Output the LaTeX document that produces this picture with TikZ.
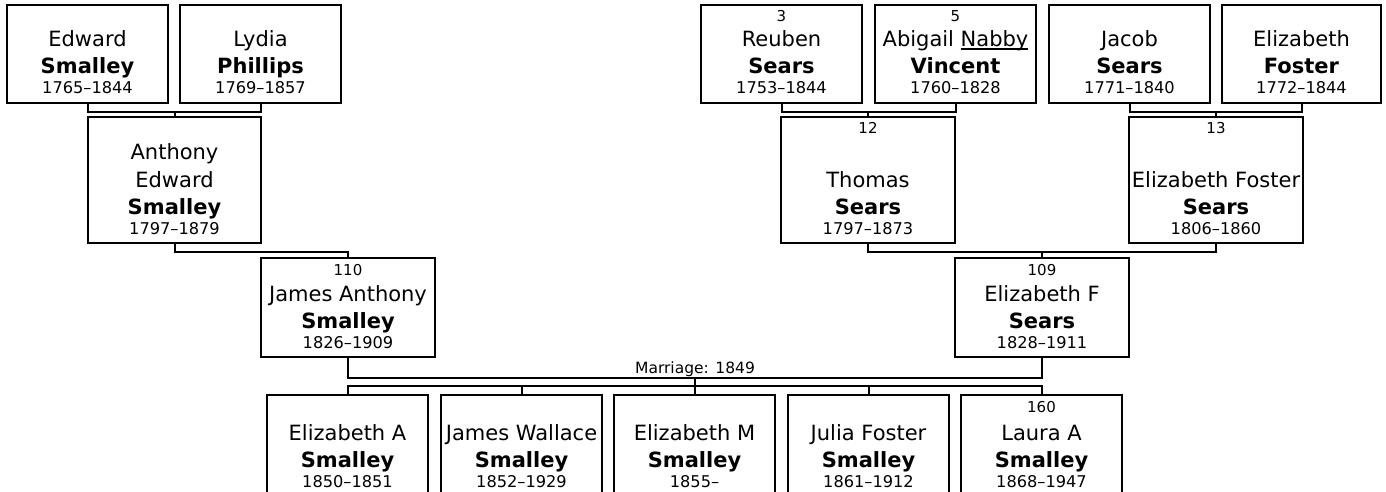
\documentclass[tikz,border=0pt]{standalone}
\usepackage{fontspec}
\setmainfont{DejaVu Sans}
\newcommand\myul[1]{\setbox0\hbox{#1}\rlap{\rule[-2.6pt]{\wd0}{1.1pt}}\box0}
\begin{document}
\begin{tikzpicture}[x=1pt,y=-1pt,
  pbox/.style={draw, line width=2pt, inner sep=0pt, fill=white},
  conn/.style={draw, line width=2pt, line cap=rect},
  nametxt/.style={anchor=base, inner sep=0pt, font=\fontsize{21}{25}\selectfont},
  surtxt/.style={anchor=base, inner sep=0pt, font=\fontsize{21}{25}\selectfont\bfseries},
  datetxt/.style={anchor=base, inner sep=0pt, font=\fontsize{16.2}{19}\selectfont},
  numtxt/.style={anchor=base, inner sep=0pt, font=\fontsize{15}{18}\selectfont},
  mtxt/.style={anchor=base, inner sep=0pt, font=\fontsize{15.5}{18}\selectfont}]
\newcommand\person[9]{%
  \node[pbox, minimum width={(#4-#2)*1pt}, minimum height={(#5-#3)*1pt}] (#1) at ({(#2+#4)/2},{(#3+#5)/2}) {};
  \node[numtxt] (#1-num) at ([yshift=-18pt]#1.north) {#6};
  \node[nametxt] (#1-name) at ([yshift=57pt]#1.south) {#7};
  \node[surtxt] (#1-sur) at ([yshift=30pt]#1.south) {#8};
  \node[datetxt] (#1-date) at ([yshift=10pt]#1.south) {#9};
}
\useasboundingbox (0,0) rectangle (1386,492);
\clip (0,0) rectangle (1386,492);
% generation 1
\person{edward}{7}{5}{168}{103}{}{Edward}{Smalley}{1765–1844}
\person{lydia}{180}{5}{341}{103}{}{Lydia}{Phillips}{1769–1857}
\person{reuben}{701}{5}{862}{103}{3}{Reuben}{Sears}{1753–1844}
\person{abigail}{875}{5}{1036}{103}{5}{Abigail \myul{Nabby}}{Vincent}{1760–1828}
\person{jacob}{1049}{5}{1210}{103}{}{Jacob}{Sears}{1771–1840}
\person{eliz}{1222}{5}{1381}{103}{}{Elizabeth}{Foster}{1772–1844}
% generation 2
\person{anthony}{88}{117}{261}{243}{}{Edward}{Smalley}{1797–1879}
\node[nametxt] (anthony-name2) at ([yshift=84pt]anthony.south) {Anthony};
\person{thomas}{781}{117}{955}{243}{12}{Thomas}{Sears}{1797–1873}
\person{efs}{1129}{117}{1303}{243}{13}{Elizabeth Foster}{Sears}{1806–1860}
% generation 3
\person{james}{261}{258}{435}{357}{110}{James Anthony}{Smalley}{1826–1909}
\person{ef}{955}{258}{1129}{357}{109}{Elizabeth F}{Sears}{1828–1911}
% children
\person{c1}{267}{395}{428}{496}{}{Elizabeth A}{Smalley}{1850–1851}
\person{c2}{441}{395}{602}{496}{}{James Wallace}{Smalley}{1852–1929}
\person{c3}{614}{395}{775}{496}{}{Elizabeth M}{Smalley}{1855–}
\person{c4}{788}{395}{949}{496}{}{Julia Foster}{Smalley}{1861–1912}
\person{c5}{961}{395}{1122}{496}{160}{Laura A}{Smalley}{1868–1947}
% family coordinates
\coordinate (u1) at (174.5,112);
\coordinate (u2) at (868,112);
\coordinate (u3) at (1216,112);
\coordinate (u4) at (348,252);
\coordinate (u5) at (1042,252);
\coordinate (m1) at (695,378);
\coordinate (m2) at (695,386);
% connectors
\draw[conn] (edward.south) |- (u1) -| (lydia.south);
\draw[conn] (u1) -- (anthony.north);
\draw[conn] (reuben.south) |- (u2) -| (abigail.south);
\draw[conn] (u2) -- (thomas.north);
\draw[conn] (jacob.south) |- (u3) -| (eliz.south);
\draw[conn] (u3) -- (efs.north);
\draw[conn] (anthony.south) |- (u4) -- (james.north);
\draw[conn] (thomas.south) |- (u5) -| (efs.south);
\draw[conn] (u5) -- (ef.north);
\draw[conn] (james.south) |- (m1) -| (ef.south);
\node[mtxt] (mlabel) at ([yshift=5pt]m1) {Marriage: 1849};
\draw[conn] (m1) -- (m2);
\draw[conn] (c1.north) |- (m2) -| (c5.north);
\draw[conn] (c2.north) -- (c2.north |- m2);
\draw[conn] (c3.north) -- (c3.north |- m2);
\draw[conn] (c4.north) -- (c4.north |- m2);
\end{tikzpicture}
\end{document}
